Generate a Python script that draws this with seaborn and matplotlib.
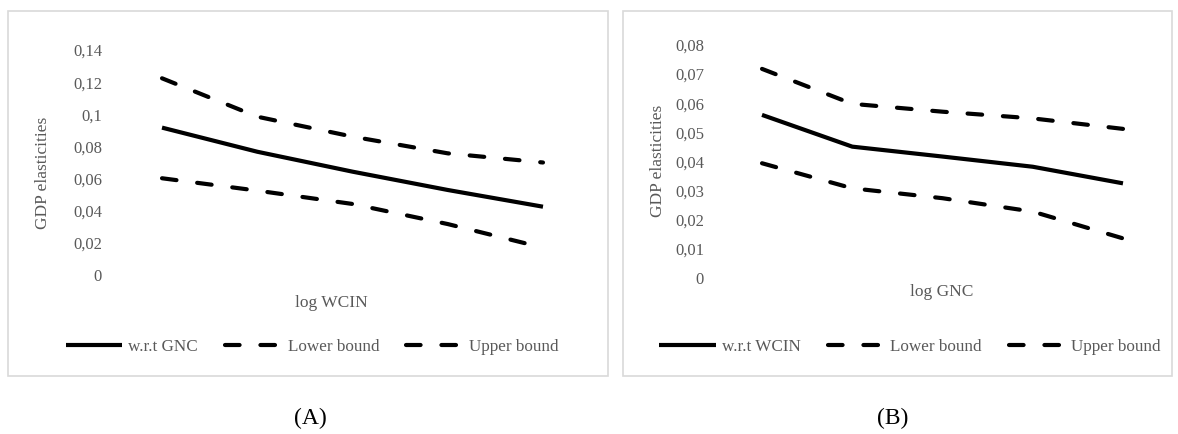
import numpy as np
import pandas as pd
import matplotlib
matplotlib.use("Agg")
import matplotlib.pyplot as plt
from matplotlib.patches import Rectangle
import seaborn as sns

# ---------------- data ----------------
categories = [1, 2, 3, 4, 5]

a_main = [0.0917, 0.0767, 0.0643, 0.0529, 0.0425]
a_lower = [0.0602, 0.0525, 0.0442, 0.0317, 0.0170]
a_upper = [0.1224, 0.0985, 0.0861, 0.0757, 0.0700]

b_main = [0.0560, 0.0451, 0.0417, 0.0382, 0.0325]
b_lower = [0.0394, 0.0308, 0.0274, 0.0228, 0.0136]
b_upper = [0.0718, 0.0598, 0.0571, 0.0548, 0.0512]

a_ticks = [0, 0.02, 0.04, 0.06, 0.08, 0.10, 0.12, 0.14]
a_ticklabels = ["0", "0,02", "0,04", "0,06", "0,08", "0,1", "0,12", "0,14"]
b_ticks = [0, 0.01, 0.02, 0.03, 0.04, 0.05, 0.06, 0.07, 0.08]
b_ticklabels = ["0", "0,01", "0,02", "0,03", "0,04", "0,05", "0,06", "0,07", "0,08"]

a_labels = ["w.r.t GNC", "Lower bound", "Upper bound"]
b_labels = ["w.r.t WCIN", "Lower bound", "Upper bound"]
a_xlabel = "log WCIN"
b_xlabel = "log GNC"
ylabel = "GDP elasticities"

# ---------------- style ----------------
sns.set_theme(style="white")
plt.rcParams["font.family"] = ["Liberation Serif", "DejaVu Serif"]
GRAY = "#595959"
W, H = 1178, 434
fig = plt.figure(figsize=(W / 100, H / 100), dpi=100)


def fx(px):
    return px / W


def fy(py):
    return 1 - py / H


# panel boxes
for (x0, y0, x1, y1) in [(8, 11, 608, 376), (623, 11, 1172, 376)]:
    fig.patches.append(Rectangle((fx(x0), fy(y1)), fx(x1) - fx(x0), fy(y0) - fy(y1),
                                 transform=fig.transFigure, fill=False,
                                 edgecolor="#D9D9D9", linewidth=1.2))


def panel(ax_px, ylim, ticks, ticklabels, main, lower, upper, labels, xlabel,
          ylabel_pos, xlabel_pos, legend_pos, pad_px):
    l, t, r, b = ax_px
    ax = fig.add_axes([fx(l), fy(b), fx(r) - fx(l), fy(t) - fy(b)])
    lw = 3.0
    sns.lineplot(x=categories, y=main, ax=ax, color="black", linewidth=lw,
                 label=labels[0], solid_capstyle="butt")
    sns.lineplot(x=categories, y=lower, ax=ax, color="black", linewidth=lw,
                 label=labels[1], dashes=False)
    sns.lineplot(x=categories, y=upper, ax=ax, color="black", linewidth=lw,
                 label=labels[2], dashes=False)
    for ln in ax.lines[1:3]:
        ln.set_dashes((3.5, 5.0))
        ln.set_dash_capstyle("round")
    ax.set_xlim(0.5, 5.5)
    ax.set_ylim(*ylim)
    ax.set_yticks(ticks)
    ax.set_yticklabels(ticklabels)
    ax.set_xticks([])
    ax.tick_params(axis="y", length=0, pad=pad_px * 0.72, labelsize=12, labelcolor=GRAY)
    for s in ax.spines.values():
        s.set_visible(False)
    ax.grid(False)
    ax.set_facecolor("none")
    ax.set_ylabel(ylabel, color=GRAY, fontsize=12.5)
    ax.yaxis.set_label_coords(fx(ylabel_pos[0]), fy(ylabel_pos[1]), transform=fig.transFigure)
    ax.yaxis.label.set_va("center")
    ax.set_xlabel(xlabel, color=GRAY, fontsize=12.5)
    ax.xaxis.set_label_coords(fx(xlabel_pos[0]), fy(xlabel_pos[1]), transform=fig.transFigure)
    ax.xaxis.label.set_va("center")
    leg = ax.legend(ncol=3, loc="center", bbox_to_anchor=(fx(legend_pos[0]), fy(legend_pos[1])),
                    bbox_transform=fig.transFigure, frameon=False, fontsize=12.3,
                    handlelength=3.3, handletextpad=0.35, columnspacing=1.6,
                    borderaxespad=0, borderpad=0)
    for txt in leg.get_texts():
        txt.set_color(GRAY)
    return ax


panel((114.4, 50, 590.6, 275), (0, 0.14), a_ticks, a_ticklabels, a_main, a_lower, a_upper,
      a_labels, a_xlabel, (43, 173), (331, 303), (312, 347), 12.4)
panel((716.9, 45, 1168.1, 278), (0, 0.08), b_ticks, b_ticklabels, b_main, b_lower, b_upper,
      b_labels, b_xlabel, (658, 161), (942, 292), (910, 347), 12.9)

fig.text(fx(310), fy(418), "(A)", ha="center", va="center", fontsize=17, color="black")
fig.text(fx(893), fy(418), "(B)", ha="center", va="center", fontsize=17, color="black")

fig.savefig("out.png", dpi=100, facecolor="white")
